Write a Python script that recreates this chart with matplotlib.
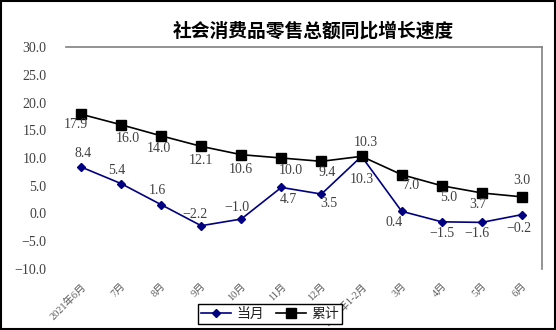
import matplotlib
matplotlib.use("Agg")
import matplotlib.pyplot as plt
from matplotlib.ticker import FuncFormatter, MultipleLocator
from matplotlib.patches import Rectangle

plt.rcParams['font.family'] = ['Liberation Serif', 'Noto Sans CJK SC', 'DejaVu Sans']
plt.rcParams['axes.unicode_minus'] = True

title = "社会消费品零售总额同比增长速度"
categories = ["2021年6月", "7月", "8月", "9月", "10月", "11月", "12月",
              "2022年1-2月", "3月", "4月", "5月", "6月"]
monthly = [8.4, 5.4, 1.6, -2.2, -1.0, 4.7, 3.5, 10.3, 0.4, -1.5, -1.6, -0.2]
cumulative = [17.9, 16.0, 14.0, 12.1, 10.6, 10.0, 9.4, 10.3, 7.0, 5.0, 3.7, 3.0]
series_names = ["当月", "累计"]

# label offsets in pixels (dx, dy) -- layout only
off_cum = [(-5, -10), (7, -14), (-2, -13), (0, -14), (0, -15), (9, -12),
           (6, -11), (4, 14), (9, -11), (7, -12), (-4, -12), (0, 16)]
off_mon = [(2, 13), (-4, 13), (-4, 14), (-6, 11), (-4, 12), (7, -12),
           (7, -9), (0, -23), (-8, -11), (0, -12), (-5, -11), (-3, -14)]

fig = plt.figure(figsize=(5.56, 3.30), dpi=100)
ax = fig.add_axes([66/556, (330-269)/330, (542-66)/556, (269-47)/330])

x = list(range(len(categories)))
txt_color = '#404040'

l1, = ax.plot(x, monthly, color='#000080', lw=1.2, marker='D', ms=4.5,
              markerfacecolor='#000080', markeredgecolor='#000080', zorder=3)
l2, = ax.plot(x, cumulative, color='black', lw=1.2, marker='s', ms=6.5,
              markerfacecolor='black', zorder=3)

def fmt(v):
    return f"{v:.1f}".replace('-', '\u2212')

for xi, v, (dx, dy) in zip(x, cumulative, off_cum):
    ax.annotate(fmt(v), (xi, v), xytext=(dx, dy), textcoords='offset pixels',
                ha='center', va='center', fontsize=10, color=txt_color, zorder=4)
for xi, v, (dx, dy) in zip(x, monthly, off_mon):
    ax.annotate(fmt(v), (xi, v), xytext=(dx, dy), textcoords='offset pixels',
                ha='center', va='center', fontsize=10, color=txt_color, zorder=4)

ax.set_xlim(-0.37, 11.5)
ax.set_ylim(-10, 30)
ax.yaxis.set_major_locator(MultipleLocator(5))
ax.yaxis.set_major_formatter(FuncFormatter(lambda v, p: fmt(v)))
ax.tick_params(axis='y', length=0, pad=14, labelsize=10, labelcolor=txt_color)
ax.set_xticks(x)
ax.set_xticklabels(categories, rotation=45, ha='right', va='top',
                   rotation_mode='anchor', fontsize=7.5, color='#595959')
ax.tick_params(axis='x', length=0, pad=9)

for s in ['left', 'bottom']:
    ax.spines[s].set_visible(False)
for s in ['top', 'right']:
    ax.spines[s].set_color('#808080')
    ax.spines[s].set_linewidth(1.2)

fig.text(313/556, 1 - 31/330, title, ha='center', va='center',
         fontsize=13.5, fontweight='bold', family=['Noto Sans CJK SC'])

leg = fig.legend([l1, l2], series_names, loc='center', bbox_to_anchor=(270/556, 1 - 314/330),
                 ncol=2, frameon=True, fancybox=False,
                 handlelength=2.2, handletextpad=0.4, columnspacing=0.8,
                 borderpad=0.2, prop={'family': ['Noto Sans CJK SC'], 'size': 10})
leg.get_frame().set_edgecolor('black')
leg.get_frame().set_linewidth(1.0)
leg.get_frame().set_facecolor('white')
leg.get_frame().set_alpha(1)
for t in leg.get_texts():
    t.set_color('#222222')

fig.patches.append(Rectangle((0.002, 0.003), 0.996, 0.994, transform=fig.transFigure,
                             fill=False, edgecolor='black', lw=1.5))

fig.savefig('out.png', dpi=100)
